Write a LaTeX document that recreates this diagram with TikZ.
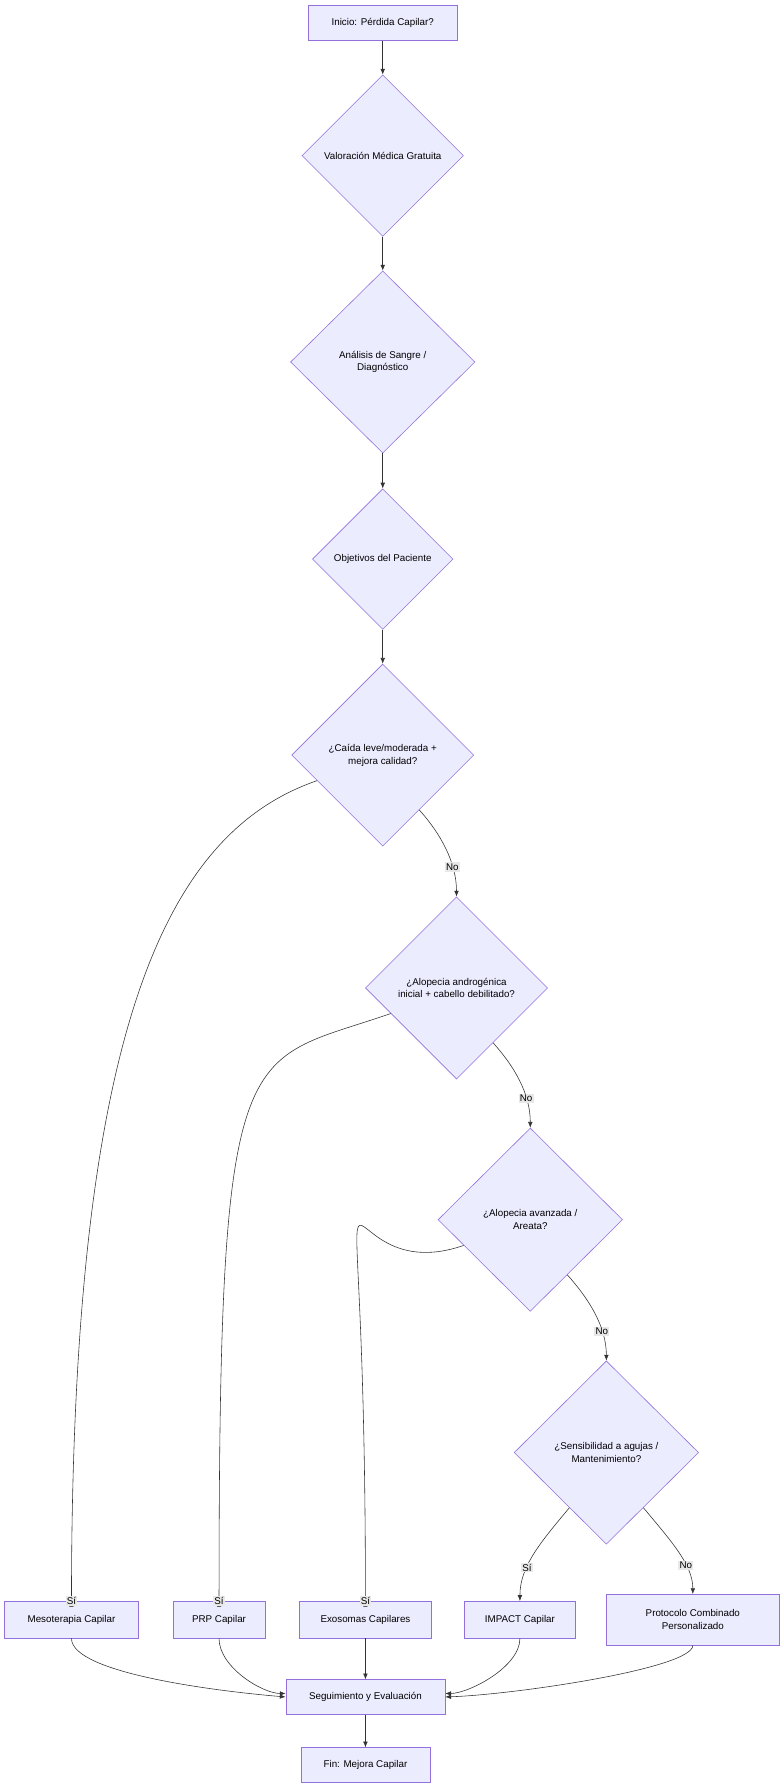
\documentclass[tikz,border=0pt]{standalone}
\usepackage{fontspec}
\setmainfont{Liberation Sans}
\usetikzlibrary{shapes.geometric,arrows.meta,calc}
\definecolor{nfill}{HTML}{ECECFF}
\definecolor{nline}{HTML}{9370DB}
\definecolor{lbl}{HTML}{E8E8E8}
\begin{document}
\begin{tikzpicture}[x=1pt,y=1pt,font=\fontsize{8.5}{11}\selectfont,
  box/.style={draw=nline,fill=nfill,line width=0.5pt,rectangle,minimum height=30,inner sep=0pt},
  dia/.style={draw=nline,fill=nfill,line width=0.5pt,diamond,inner sep=0pt,align=center},
  arr/.style={-{Latex[length=5pt,width=4pt]},line width=0.5pt,draw=black!80},
  lab/.style={fill=lbl,inner sep=1pt,font=\fontsize{8.5}{10}\selectfont}]
\useasboundingbox (0,0) rectangle (680,-1551);
\node[box,minimum width=130] (s) at (332,-20) {Inicio: Pérdida Capilar?};
\node[dia,minimum width=140,minimum height=140] (d1) at (332,-135) {Valoración Médica Gratuita};
\node[dia,minimum width=160,minimum height=158] (d2) at (332,-314) {Análisis de Sangre /\\Diagnóstico};
\node[dia,minimum width=122,minimum height=122] (d3) at (332,-485) {Objetivos del Paciente};
\node[dia,minimum width=158,minimum height=158] (d4) at (332,-655) {¿Caída leve/moderada +\\mejora calidad?};
\node[dia,minimum width=158,minimum height=158] (d5) at (396,-857) {¿Alopecia androgénica\\inicial + cabello debilitado?};
\node[dia,minimum width=160,minimum height=159] (d6) at (460,-1058) {¿Alopecia avanzada /\\Areata?};
\node[dia,minimum width=160,minimum height=159] (d7) at (526,-1260) {¿Sensibilidad a agujas /\\Mantenimiento?};
\node[box,minimum width=116,minimum height=32] (m) at (62,-1405) {Mesoterapia Capilar};
\node[box,minimum width=80,minimum height=32] (p) at (190,-1405) {PRP Capilar};
\node[box,minimum width=114,minimum height=32] (e) at (317,-1405) {Exosomas Capilares};
\node[box,minimum width=96,minimum height=32] (i) at (451,-1405) {IMPACT Capilar};
\node[box,minimum width=150,minimum height=44,align=center] (pc) at (601,-1405) {Protocolo Combinado\\Personalizado};
\node[box,minimum width=138] (seg) at (317,-1472) {Seguimiento y Evaluación};
\node[box,minimum width=112] (fin) at (317,-1531) {Fin: Mejora Capilar};
\draw[arr] (s) -- (d1);
\draw[arr] (d1) -- (d2);
\draw[arr] (d2) -- (d3);
\draw[arr] (d3) -- (d4);
% yes branches
\foreach \d/\t/\ly in {d4/m/1057,d5/p/1160,d6/e/1260}{
  \draw[arr] ($(\d.west)!0.28!(\d.south)$) .. controls ++(-130,-45) and ($(\t.north)+(0,500)$) .. ($(\t.north)+(0,-0)+(0,0)$ |- 0,{-\ly+200}) -- (\t.north) node[lab,pos=0.7] {Sí};
}
% no branches
\draw[arr] ($(d4.east)!0.6!(d4.south)$) .. controls ++(18,-20) and ($(d5.north)+(0,30)$) .. (d5.north) node[lab,pos=0.7] {No};
\draw[arr] ($(d5.east)!0.6!(d5.south)$) .. controls ++(18,-20) and ($(d6.north)+(0,30)$) .. (d6.north) node[lab,pos=0.7] {No};
\draw[arr] ($(d6.east)!0.6!(d6.south)$) .. controls ++(18,-20) and ($(d7.north)+(0,30)$) .. (d7.north) node[lab,pos=0.7] {No};
\draw[arr] ($(d7.west)!0.6!(d7.south)$) .. controls ++(-25,-30) and ($(i.north)+(0,30)$) .. (i.north) node[lab,pos=0.65] {Sí};
\draw[arr] ($(d7.east)!0.6!(d7.south)$) .. controls ++(25,-30) and ($(pc.north)+(0,25)$) .. (pc.north) node[lab,pos=0.65] {No};
% to seguimiento
\draw[arr] (m.south) .. controls ++(0,-30) and ($(seg.west)+(-60,5)$) .. (seg.west);
\draw[arr] (p.south) .. controls ++(0,-25) and ($(seg.west)+(-20,3)$) .. ($(seg.west)+(0,3)$);
\draw[arr] (e) -- (seg);
\draw[arr] (i.south) .. controls ++(0,-25) and ($(seg.east)+(20,3)$) .. ($(seg.east)+(0,3)$);
\draw[arr] (pc.south) .. controls ++(0,-20) and ($(seg.east)+(60,2)$) .. (seg.east);
\draw[arr] (seg) -- (fin);
\end{tikzpicture}
\end{document}
